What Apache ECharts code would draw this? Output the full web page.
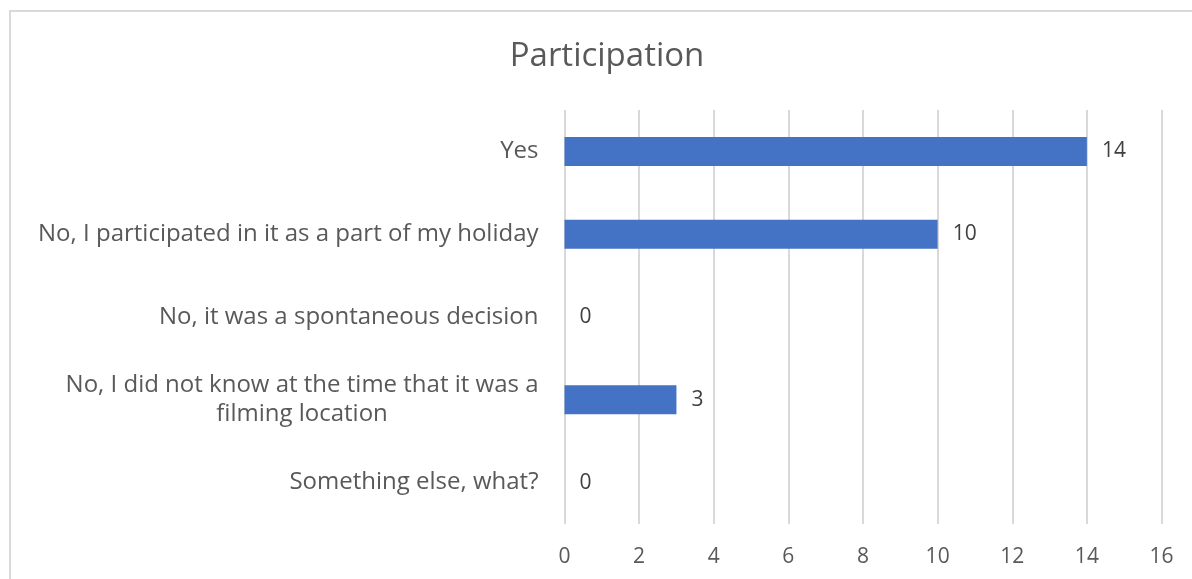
<!DOCTYPE html>
<html>
<head>
<meta charset="utf-8">
<script src="https://cdn.jsdelivr.net/npm/echarts@6/dist/echarts.min.js"></script>
<style>
  html, body { margin: 0; padding: 0; background: #fff; }
  #chart { width: 1192px; height: 579px; }
</style>
</head>
<body>
<div id="chart"></div>
<script>
const categories = [
  'Yes',
  'No, I participated in it as a part of my holiday',
  'No, it was a spontaneous decision',
  'No, I did not know at the time that it was a\nfilming location',
  'Something else, what?'
]
const counts = [14, 10, 0, 3, 0]
const xTicks = [0, 2, 4, 6, 8, 10, 12, 14, 16]

const chart = echarts.init(document.getElementById('chart'))

chart.setOption({
  animation: false,
  textStyle: { fontFamily: 'Open Sans' },
  title: {
    text: 'Participation',
    left: 602,
    textAlign: 'center',
    top: 35,
    textStyle: {
      fontFamily: 'Open Sans',
      fontSize: 33,
      fontWeight: 'normal',
      color: '#595959'
    }
  },
  graphic: [{
    type: 'rect',
    shape: { x: 10, y: 11, width: 1200, height: 600 },
    style: { fill: 'none', stroke: '#d9d9d9', lineWidth: 2 },
    silent: true
  }],
  grid: {
    left: 564.5,
    right: 30.5,
    top: 110,
    bottom: 55
  },
  xAxis: {
    type: 'value',
    min: xTicks[0],
    max: xTicks[xTicks.length - 1],
    interval: 2,
    axisLine: { show: false },
    axisTick: { show: false },
    axisLabel: {
      margin: 23,
      fontSize: 21,
      color: '#595959',
      fontFamily: 'Open Sans'
    },
    splitLine: { lineStyle: { color: '#d9d9d9', width: 2 } }
  },
  yAxis: {
    type: 'category',
    inverse: true,
    data: categories,
    axisLine: { show: false },
    axisTick: { show: false },
    axisLabel: {
      margin: 26,
      fontSize: 24,
      color: '#595959',
      fontFamily: 'Open Sans',
      lineHeight: 29,
      formatter: function (v) {
        return v.split('\n').map(function (s) { return '{c|' + s + '}' }).join('\n')
      },
      rich: {
        c: { align: 'center', fontSize: 24, color: '#595959', fontFamily: 'Open Sans', lineHeight: 29 }
      }
    }
  },
  series: [{
    type: 'bar',
    data: counts,
    barWidth: '35%',
    itemStyle: { color: '#4472c4' },
    label: {
      show: true,
      position: 'right',
      distance: 15,
      fontSize: 21,
      color: '#404040',
      fontFamily: 'Open Sans'
    }
  }]
})
</script>
</body>
</html>
